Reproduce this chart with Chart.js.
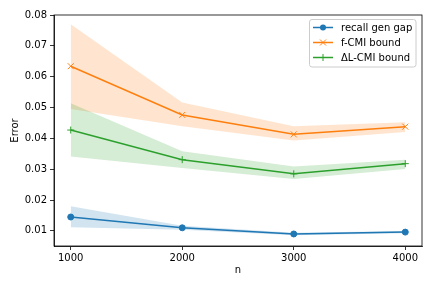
<!DOCTYPE html>
<html>
<head>
<meta charset="utf-8">
<script src="https://cdn.jsdelivr.net/npm/chart.js@4/dist/chart.umd.min.js"></script>
<style>
  html, body { margin: 0; padding: 0; background: #fff; }
  canvas { display: block; }
</style>
</head>
<body>
<canvas id="chart" width="432" height="288"></canvas>
<script>
// values
var nValues = [1000, 2000, 3000, 4000];
var xTicks = [1000, 2000, 3000, 4000];
var yTicks = [0.01, 0.02, 0.03, 0.04, 0.05, 0.06, 0.07, 0.08];

var recallGap  = [0.0145, 0.0110, 0.0090, 0.0096];
var recallLow  = [0.0112, 0.0104, 0.0086, 0.0092];
var recallHigh = [0.0180, 0.0117, 0.0094, 0.0100];

var fCmi     = [0.0634, 0.0476, 0.0413, 0.0438];
var fCmiLow  = [0.0495, 0.0439, 0.0393, 0.0421];
var fCmiHigh = [0.0770, 0.0516, 0.0439, 0.0452];

var dlCmi     = [0.0427, 0.0331, 0.0285, 0.0318];
var dlCmiLow  = [0.0341, 0.0304, 0.0268, 0.0301];
var dlCmiHigh = [0.0514, 0.0358, 0.0309, 0.0331];

var legendLabels = ["recall gen gap", "f-CMI bound", "\u0394L-CMI bound"];

var BLUE = "#1f77b4", ORANGE = "#ff7f0e", GREEN = "#2ca02c";
var FONT = "'DejaVu Sans', sans-serif";

function pts(arr) {
    return arr.map(function (v, i) { return { x: nValues[i], y: v }; });
}

function bandSets(low, high, fillColor, order) {
    return [
        { label: "_band", data: pts(high), borderWidth: 0, pointRadius: 0, fill: false, order: order },
        { label: "_band", data: pts(low), borderWidth: 0, pointRadius: 0, fill: "-1",
          backgroundColor: fillColor, order: order }
    ];
}

function lineSet(label, values, color, style, radius, order) {
    return {
        label: label,
        data: pts(values),
        borderColor: color,
        backgroundColor: color,
        borderWidth: 1.5,
        pointStyle: style,
        pointRadius: radius,
        pointBorderWidth: 1,
        pointBorderColor: color,
        pointBackgroundColor: color,
        fill: false,
        tension: 0,
        order: order
    };
}

var datasets = []
    .concat(bandSets(recallLow, recallHigh, "rgba(31,119,180,0.2)", 13))
    .concat(bandSets(fCmiLow, fCmiHigh, "rgba(255,127,14,0.2)", 12))
    .concat(bandSets(dlCmiLow, dlCmiHigh, "rgba(44,160,44,0.2)", 11))
    .concat([
        lineSet(legendLabels[0], recallGap, BLUE, "circle", 3, 3),
        lineSet(legendLabels[1], fCmi, ORANGE, "crossRot", 4.2, 2),
        lineSet(legendLabels[2], dlCmi, GREEN, "cross", 3.5, 1)
    ]);

// frame on all four sides and a matplotlib-like legend
var framePlugin = {
    id: "frame",
    afterDraw: function (chart) {
        var ctx = chart.ctx, a = chart.chartArea;
        ctx.save();
        ctx.strokeStyle = "#000";
        ctx.lineWidth = 0.8;
        ctx.strokeRect(a.left, a.top, a.right - a.left, a.bottom - a.top);

        // legend box
        var bx = 309.5, by = 19.5, bw = 106.5, bh = 47.5, r = 2.5;
        ctx.beginPath();
        ctx.moveTo(bx + r, by);
        ctx.lineTo(bx + bw - r, by);
        ctx.arcTo(bx + bw, by, bx + bw, by + r, r);
        ctx.lineTo(bx + bw, by + bh - r);
        ctx.arcTo(bx + bw, by + bh, bx + bw - r, by + bh, r);
        ctx.lineTo(bx + r, by + bh);
        ctx.arcTo(bx, by + bh, bx, by + bh - r, r);
        ctx.lineTo(bx, by + r);
        ctx.arcTo(bx, by, bx + r, by, r);
        ctx.closePath();
        ctx.fillStyle = "rgba(255,255,255,0.8)";
        ctx.fill();
        ctx.strokeStyle = "#cccccc";
        ctx.lineWidth = 1;
        ctx.stroke();

        var colors = [BLUE, ORANGE, GREEN];
        var rows = [27.5, 42.5, 57.5];
        ctx.font = "10px " + FONT;
        ctx.textBaseline = "middle";
        for (var i = 0; i < 3; i++) {
            var y = rows[i];
            ctx.strokeStyle = colors[i];
            ctx.fillStyle = colors[i];
            ctx.lineWidth = 1.5;
            ctx.beginPath();
            ctx.moveTo(313, y);
            ctx.lineTo(333, y);
            ctx.stroke();
            ctx.lineWidth = 1;
            ctx.beginPath();
            if (i === 0) {
                ctx.arc(323, y, 3, 0, Math.PI * 2);
                ctx.fill();
            } else if (i === 1) {
                ctx.moveTo(320, y - 3); ctx.lineTo(326, y + 3);
                ctx.moveTo(320, y + 3); ctx.lineTo(326, y - 3);
                ctx.stroke();
            } else {
                ctx.moveTo(319.5, y); ctx.lineTo(326.5, y);
                ctx.moveTo(323, y - 3.5); ctx.lineTo(323, y + 3.5);
                ctx.stroke();
            }
            ctx.fillStyle = "#000";
            ctx.fillText(legendLabels[i], 341, y + 0.5);
        }
        ctx.restore();
    }
};

new Chart(document.getElementById("chart"), {
    type: "line",
    data: { datasets: datasets },
    options: {
        responsive: false,
        animation: false,
        devicePixelRatio: 1,
        layout: { padding: { top: 15, right: 10, left: 0, bottom: 0 } },
        plugins: {
            legend: { display: false },
            tooltip: { enabled: false },
            filler: { drawTime: "beforeDatasetsDraw" }
        },
        scales: {
            x: {
                type: "linear",
                min: 850,
                max: 4150,
                afterFit: function (s) { s.height = 42; },
                afterBuildTicks: function (s) { s.ticks = xTicks.map(function (v) { return { value: v }; }); },
                grid: { display: true, drawOnChartArea: false, drawTicks: true, tickLength: 4, color: "#000", lineWidth: 0.8 },
                border: { display: true, color: "#000", width: 0.8 },
                ticks: { color: "#000", font: { family: FONT, size: 10 }, padding: 2, maxRotation: 0,
                         callback: function (v) { return String(v); } },
                title: { display: true, text: "n", color: "#000", font: { family: FONT, size: 10 },
                         padding: { top: 0, bottom: 12 } }
            },
            y: {
                type: "linear",
                min: 0.0051,
                max: 0.08,
                afterFit: function (s) { s.width = 54; },
                afterBuildTicks: function (s) { s.ticks = yTicks.map(function (v) { return { value: v }; }); },
                grid: { display: true, drawOnChartArea: false, drawTicks: true, tickLength: 4, color: "#000", lineWidth: 0.8 },
                border: { display: true, color: "#000", width: 0.8 },
                ticks: { color: "#000", font: { family: FONT, size: 10 }, padding: 3,
                         callback: function (v) { return v.toFixed(2); } },
                title: { display: true, text: "Error", color: "#000", font: { family: FONT, size: 10 },
                         padding: { top: 9, bottom: 0 } }
            }
        }
    },
    plugins: [framePlugin]
});
</script>
</body>
</html>
